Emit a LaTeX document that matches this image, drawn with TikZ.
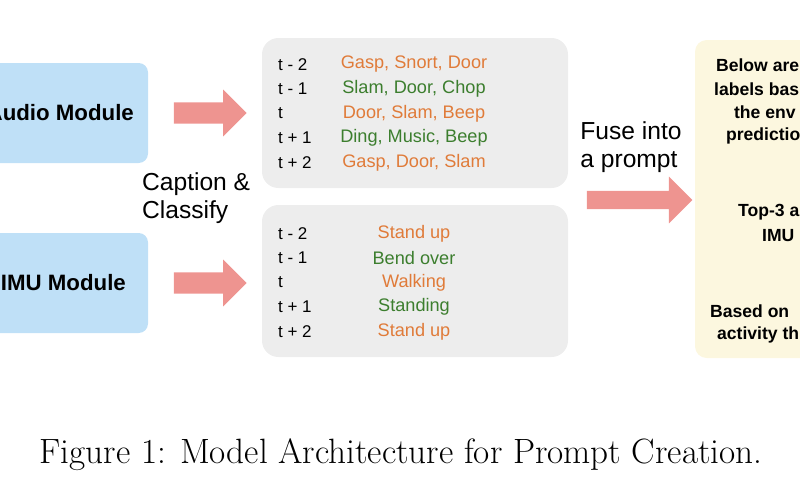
\documentclass[tikz,border=0pt]{standalone}
\usepackage{fontspec}
\setsansfont{Liberation Sans}
\usetikzlibrary{shapes.arrows}
\definecolor{modblue}{HTML}{BFE0F7}
\definecolor{listgray}{HTML}{EDEDED}
\definecolor{arrowpink}{HTML}{EE9490}
\definecolor{labor}{HTML}{E07B39}
\definecolor{labgr}{HTML}{3C7E2E}
\definecolor{promptyel}{HTML}{FCF7DF}
\tikzset{
  modbox/.style={rounded corners=8pt,fill=modblue},
  listbox/.style={rounded corners=14pt,fill=listgray},
  fatarrow/.style={single arrow,fill=arrowpink,minimum height=#1,minimum width=40pt,single arrow head extend=7pt,inner sep=5.5pt},
  modtext/.style={font=\sffamily\bfseries\fontsize{19}{21}\selectfont,anchor=east},
  tt/.style={font=\sffamily\fontsize{14.5}{16}\selectfont,anchor=west},
  lab/.style={font=\sffamily\fontsize{15.5}{17}\selectfont},
  note/.style={font=\sffamily\fontsize{21}{24}\selectfont,align=left},
  ptext/.style={font=\sffamily\bfseries\fontsize{15}{17}\selectfont,anchor=west}
}
\begin{document}
\begin{tikzpicture}[x=0.03cm,y=-0.03cm]
  \useasboundingbox (0,0) rectangle (800,500);
  \clip (0,0) rectangle (800,500);

  % modules
  \fill[modbox] (-20,63) rectangle (148,163);
  \fill[modbox] (-20,233) rectangle (148,333);
  \node[modtext] (audio) at (138,113) {Audio Module};
  \node[modtext] (imu) at (130,283) {IMU Module};

  % arrows to lists
  \node[fatarrow=62pt] (a1) at (205,113) {};
  \node[fatarrow=62pt] (a2) at (205,283) {};
  \node[note,anchor=west] (cap) at (138,198) {Caption \&\\Classify};

  % label lists
  \fill[listbox] (262,38) rectangle (568,188);
  \fill[listbox] (262,205) rectangle (568,357);
  \foreach \t/\l/\c [count=\i] in {t - 2/{Gasp, Snort, Door}/labor,
      t - 1/{Slam, Door, Chop}/labgr, t/{Door, Slam, Beep}/labor,
      t + 1/{Ding, Music, Beep}/labgr, t + 2/{Gasp, Door, Slam}/labor} {
    \node[tt] (at\i) at (274,40+24.5*\i) {\t};
    \node[lab,text=\c] (al\i) at (414,40+24.5*\i) {\l};
  }
  \foreach \t/\l/\c [count=\i] in {t - 2/{Stand up}/labor,
      t - 1/{Bend over}/labgr, t/{Walking}/labor,
      t + 1/{Standing}/labgr, t + 2/{Stand up}/labor} {
    \node[tt] (it\i) at (274,209+24.5*\i) {\t};
    \node[lab,text=\c] (il\i) at (414,209+24.5*\i) {\l};
  }

  % fuse
  \node[note] (fuse) at (631,147) {Fuse into\\a prompt};
  \node[fatarrow=90pt,single arrow head extend=9pt] (a3) at (635,200) {};

  % prompt
  \fill[promptyel,rounded corners=10pt] (695,40) rectangle (830,358);
  \node[ptext] (p1) at (712,65) {Below are};
  \node[ptext] (p2) at (710,89) {labels bas};
  \node[ptext] (p3) at (730,112) {the env};
  \node[ptext] (p4) at (722,136) {predictio};
  \node[ptext] (p5) at (734,212) {Top-3 a};
  \node[ptext] (p6) at (758,236) {IMU};
  \node[ptext] (p7) at (706,311) {Based on};
  \node[ptext] (p8) at (713,335) {activity th};

  % caption
  \node[font=\fontsize{30}{33}\selectfont] (fig) at (401,455)
    {Figure 1: Model Architecture for Prompt Creation.};
\end{tikzpicture}
\end{document}
